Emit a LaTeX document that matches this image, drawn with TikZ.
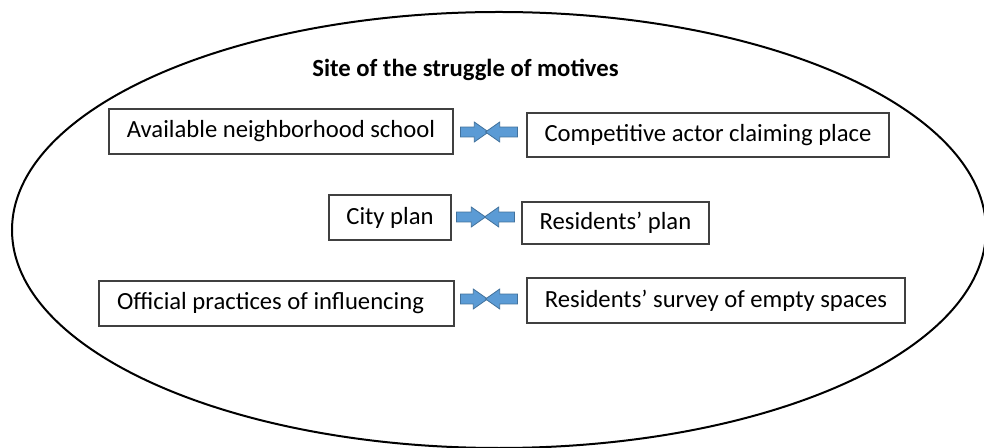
\documentclass[tikz,border=0pt]{standalone}
\usepackage{fontspec}
\setmainfont{Carlito}
\usetikzlibrary{shapes.arrows}
\definecolor{arrfill}{HTML}{5B9BD5}
\definecolor{arrdraw}{HTML}{41719C}
\definecolor{boxline}{HTML}{404040}
\begin{document}
\begin{tikzpicture}[x=0.75pt,y=-0.75pt,
  every node/.style={font=\fontsize{18.5}{21}\selectfont},
  motive/.style={draw=boxline,line width=0.9pt,fill=white,inner sep=0pt,align=center},
  blockarrow/.style={single arrow,draw=arrdraw,fill=arrfill,line width=0.6pt,inner xsep=0pt,inner ysep=3.4pt,
    single arrow head extend=3.75pt,single arrow tip angle=70,minimum height=#1},
  leftarrow/.style={blockarrow=#1,shape border rotate=180}
]
\useasboundingbox (0,0) rectangle (984,448);
\draw[line width=1.5pt] (499,230) ellipse [x radius=365.25pt, y radius=163.5pt];
\node[anchor=base,font=\fontsize{18.5}{21}\selectfont\bfseries] (title) at (465.5,77) {Site of the struggle of motives};

\node[motive,minimum width=258pt,minimum height=33.75pt] (a1) at (281,131.5) {Available neighborhood school};
\node[motive,minimum width=271.5pt,minimum height=33pt] (b1) at (708,135) {Competitive actor claiming place};
\node[motive,minimum width=91.5pt,minimum height=33.75pt] (a2) at (390,217.5) {City plan};
\node[motive,minimum width=140.25pt,minimum height=31.5pt] (b2) at (615.5,223) {Residents’ plan};
\node[motive,minimum width=266.25pt,minimum height=33.75pt] (a3) at (276.5,303.5) {Official practices of influencing\hspace*{9pt}};
\node[motive,minimum width=283.5pt,minimum height=33.75pt] (b3) at (716,300.5) {Residents’ survey of empty spaces};

\node[blockarrow=21pt] (r1) at (471,132) {};
\node[leftarrow=24pt] (l1) at (505,132) {};
\node[blockarrow=21.75pt] (r2) at (467.5,217) {};
\node[leftarrow=22.5pt] (l2) at (503,217) {};
\node[blockarrow=20.25pt] (r3) at (470.5,299) {};
\node[leftarrow=24pt] (l3) at (505,299) {};
\end{tikzpicture}
\end{document}
